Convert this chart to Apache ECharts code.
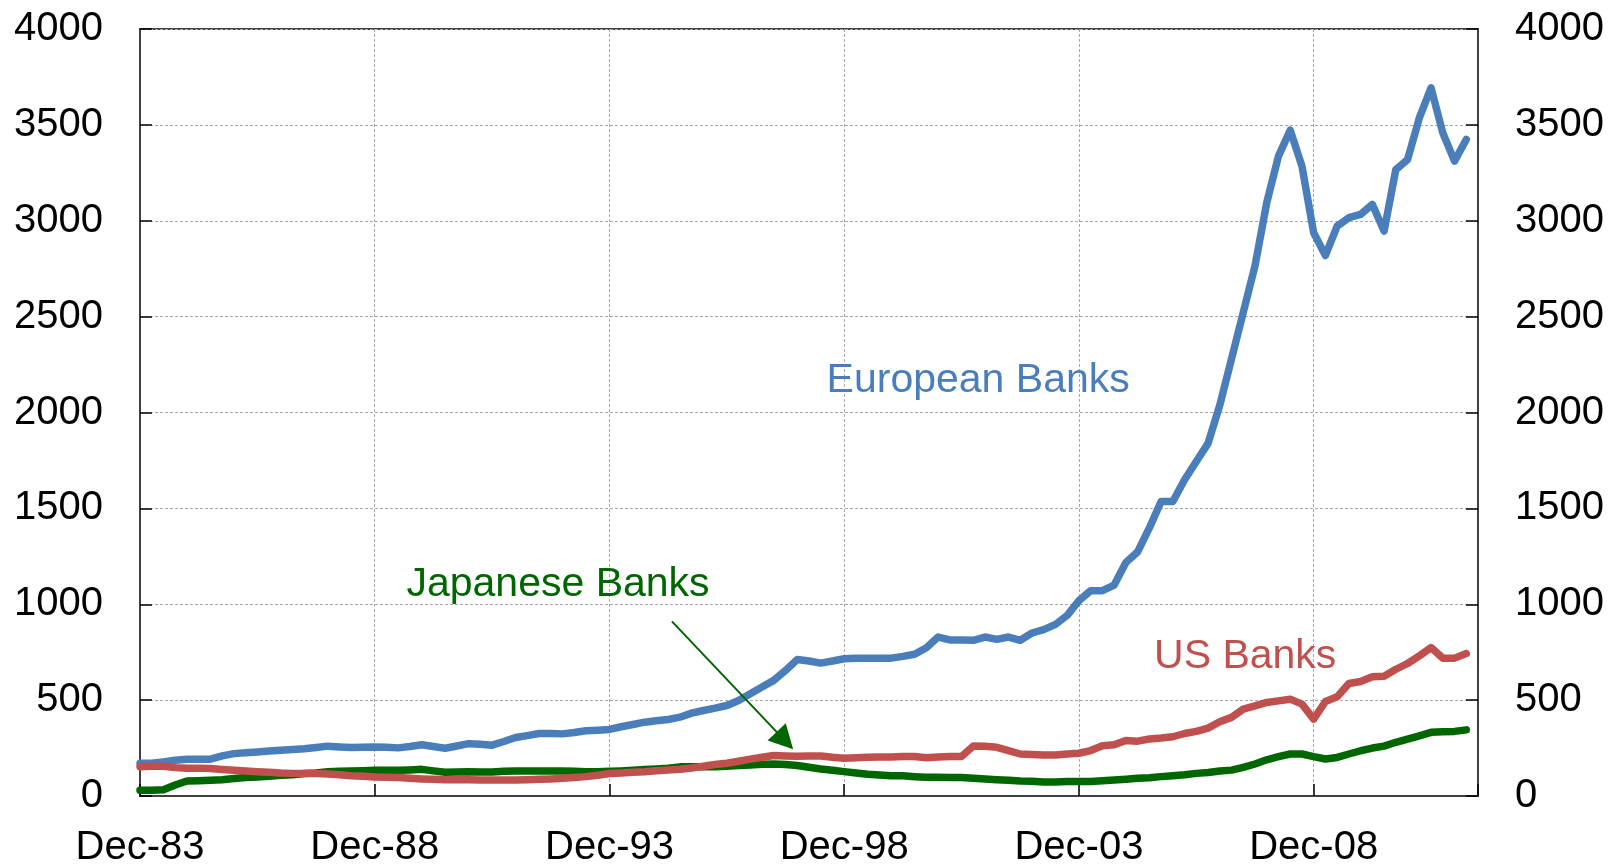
<!DOCTYPE html>
<html><head><meta charset="utf-8">
<script src="https://cdn.jsdelivr.net/npm/echarts@6/dist/echarts.min.js"></script>
<style>html,body{margin:0;padding:0;background:#fff}#c{width:1621px;height:868px}</style>
</head><body><div id="c"></div>
<script>
// Quarter index 0 = Dec-83, one step per quarter, last point Mar-12 (index 113)
const xTickLabels = ['Dec-83','Dec-88','Dec-93','Dec-98','Dec-03','Dec-08'];
const yTicks = [0,500,1000,1500,2000,2500,3000,3500,4000];

const european = [171,171,178,186,192,192,192,209,221,225,
230,235,239,242,246,253,260,256,253,254,
256,254,251,258,267,258,249,261,273,270,
265,284,305,315,326,326,324,331,340,343,
347,361,373,385,392,399,411,432,446,458,
472,498,533,568,603,655,712,704,693,704,
716,718,718,718,719,728,739,773,829,814,
814,812,829,817,829,812,850,868,895,942,
1019,1071,1071,1100,1218,1273,1398,1536,1536,1649,
1744,1839,2038,2280,2522,2765,3094,3337,3472,3285,
2937,2819,2972,3016,3033,3085,2946,3267,3319,3536,
3693,3458,3311,3424];

const us = [153,155,155,148,145,145,143,138,134,131,
127,124,120,118,117,117,115,111,106,103,
99,98,96,92,89,87,85,85,85,84,
84,84,84,85,87,89,92,96,101,108,
117,120,124,127,132,136,139,146,155,164,
171,181,192,202,211,209,207,209,209,202,
197,200,202,204,204,206,206,200,204,206,
206,261,260,254,237,219,216,214,214,219,
223,237,262,267,289,286,297,302,309,326,
337,354,387,410,453,470,488,496,505,479,
401,493,517,587,597,622,625,661,691,731,
774,719,719,743];

const japanese = [30,30,33,57,78,80,82,85,91,96,
99,103,108,111,117,120,127,129,131,132,
134,134,134,136,139,131,124,125,127,125,
125,129,131,131,131,131,131,129,127,127,
129,131,134,138,141,145,152,153,153,153,
155,159,162,165,167,164,159,150,141,134,
127,120,113,110,106,105,101,98,98,96,
96,92,89,85,82,78,77,73,73,75,
75,76,80,83,87,92,95,101,106,111,
118,123,130,135,149,167,189,205,219,219,
205,193,201,219,236,250,260,280,297,314,
332,335,337,345];

const seriesNames = ['European Banks','US Banks','Japanese Banks'];
const colors = {eu:'#4a7ebb', us:'#c0504d', jp:'#006600'};

const pairs = arr => arr.map((v,i)=>[i,v]);
const FONT = '"Liberation Sans", Arial, sans-serif';

const chart = echarts.init(document.getElementById('c'), null, {renderer:'canvas'});

const lineSeries = (name, data, color, z) => ({
  name, type:'line', data: pairs(data), showSymbol:false, symbol:'none',
  lineStyle:{color, width:7.5, cap:'round', join:'round'}, z, animation:false
});

const yAxisBase = pos => ({
  type:'value', position:pos, min:yTicks[0], max:yTicks[yTicks.length-1], interval:500,
  axisLine:{show:true, lineStyle:{color:'#404040', width:2}},
  axisTick:{show:true, inside:true, length:12, lineStyle:{color:'#000', width:1.5}},
  axisLabel:{margin:37, fontSize:40, fontFamily:FONT, color:'#000', formatter: v => String(v)},
  splitLine:{show:pos==='left', lineStyle:{color:'#a8a8a8', width:1, type:[3,2]}}
});

chart.setOption({
  animation:false,
  backgroundColor:'#fff',
  grid:{left:140, right:143, top:29, bottom:70, show:true, borderColor:'#404040', borderWidth:2},
  xAxis:{
    type:'value', min:0, max:114, interval:20,
    axisLine:{show:true, onZero:false, lineStyle:{color:'#404040', width:2}},
    axisTick:{show:true, inside:true, length:12, lineStyle:{color:'#000', width:1.5}},
    axisLabel:{margin:32, fontSize:40, fontFamily:FONT, color:'#000',
      formatter: v => (v % 20 === 0 && v/20 < xTickLabels.length) ? xTickLabels[v/20] : ''},
    splitLine:{show:true, lineStyle:{color:'#a8a8a8', width:1, type:[3,2]}}
  },
  yAxis:[yAxisBase('left'), yAxisBase('right')],
  series:[
    lineSeries(seriesNames[0], european, colors.eu, 2),
    lineSeries(seriesNames[2], japanese, colors.jp, 3),
    lineSeries(seriesNames[1], us, colors.us, 4)
  ]
});

// Annotations anchored in data coordinates
const px = (x,y) => chart.convertToPixel({gridIndex:0}, [x,y]);
const euPos = px(58.5, 2165), jpPos = px(22.7, 1100), usPos = px(86.4, 724);
const S = px(45.32, 911), T = px(55.65, 243.5);
const dx = T[0]-S[0], dy = T[1]-S[1], L = Math.hypot(dx,dy);
const ux = dx/L, uy = dy/L, nx = -uy, ny = ux;
const headLen = 24, headHalf = 12.5;
const B = [T[0]-ux*headLen, T[1]-uy*headLen];

const txt = (p, text, fill) => ({type:'text', x:p[0], y:p[1], z:10,
  style:{text, fill, fontSize:41, fontFamily:FONT, align:'left', verticalAlign:'middle'}});

chart.setOption({graphic:[
  txt(euPos, 'European Banks', colors.eu),
  txt(jpPos, 'Japanese Banks', colors.jp),
  txt(usPos, 'US Banks', colors.us),
  {type:'line', z:10, shape:{x1:S[0], y1:S[1], x2:B[0]+ux*2, y2:B[1]+uy*2},
   style:{stroke:colors.jp, lineWidth:2}},
  {type:'polygon', z:10, shape:{points:[T, [B[0]+nx*headHalf, B[1]+ny*headHalf], [B[0]-nx*headHalf, B[1]-ny*headHalf]]},
   style:{fill:colors.jp}}
]});
</script></body></html>
